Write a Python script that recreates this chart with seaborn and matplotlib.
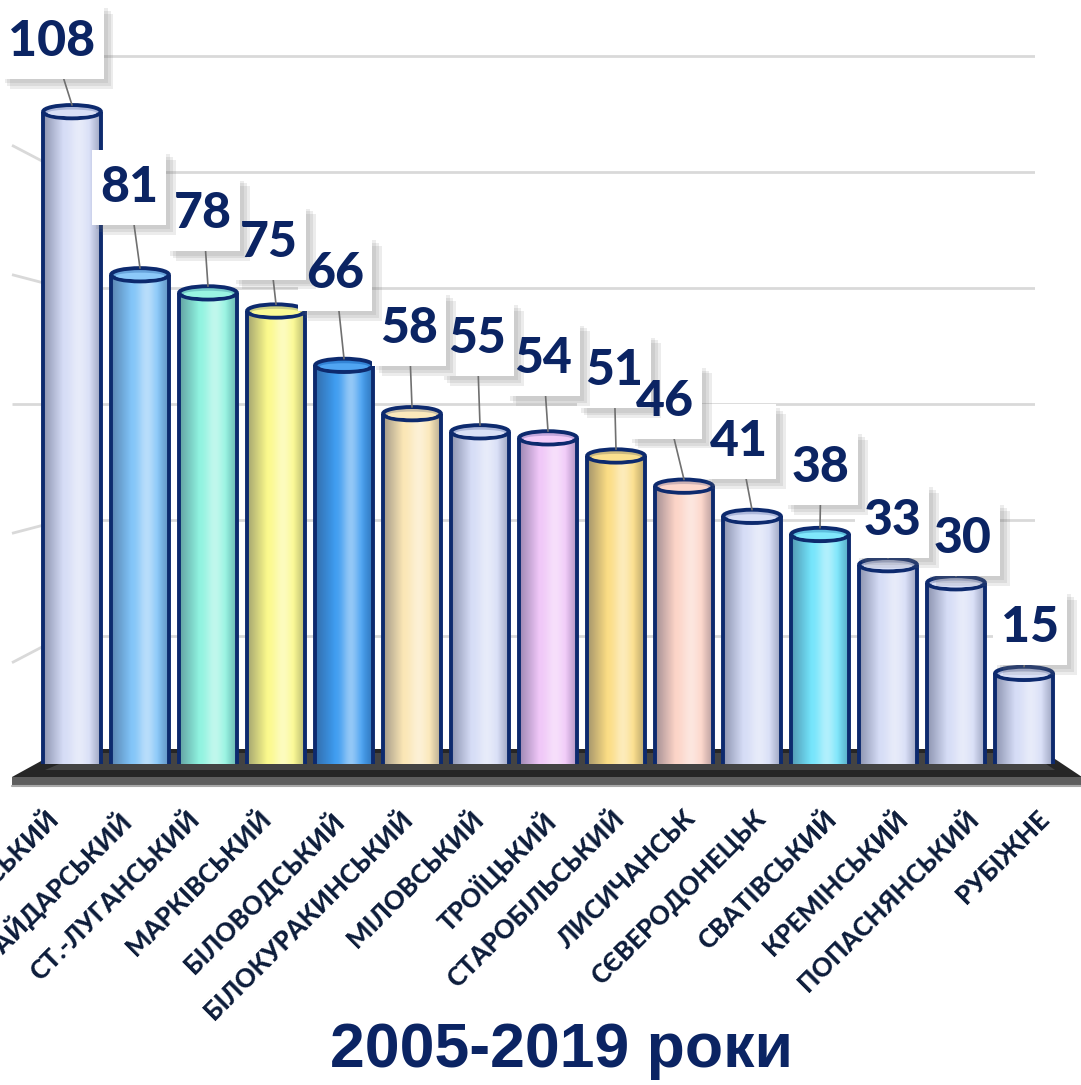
import numpy as np
import matplotlib
matplotlib.use("Agg")
import matplotlib.pyplot as plt
import matplotlib.patheffects as pe
from matplotlib.patches import Ellipse, Polygon
from matplotlib.path import Path
from matplotlib.colors import to_rgb
import seaborn as sns

# data
districts = ["НОВОПСКОВСЬКИЙ", "НОВОАЙДАРСЬКИЙ", "СТ.-ЛУГАНСЬКИЙ", "МАРКІВСЬКИЙ",
             "БІЛОВОДСЬКИЙ", "БІЛОКУРАКИНСЬКИЙ", "МІЛОВСЬКИЙ", "ТРОЇЦЬКИЙ",
             "СТАРОБІЛЬСЬКИЙ", "ЛИСИЧАНСЬК", "СЄВЕРОДОНЕЦЬК", "СВАТІВСЬКИЙ",
             "КРЕМІНСЬКИЙ", "ПОПАСНЯНСЬКИЙ", "РУБІЖНЕ"]
cases = [108, 81, 78, 75, 66, 58, 55, 54, 51, 46, 41, 38, 33, 30, 15]
wall_ticks = [20, 40, 60, 80, 100, 120]
title = "2005-2019 роки"

bar_colors = ["#d5dcf6", "#7fc3f8", "#8ef3df", "#fbf98a", "#3c9bf0", "#fbe6b4",
              "#d5dcf6", "#f0c6f8", "#fbdc82", "#fcd3c6", "#d5dcf6", "#72e4fb",
              "#d5dcf6", "#d5dcf6", "#d5dcf6"]

# label box offsets from the bar top, in pixels (layout only)
label_dx = [-20, -11, -5, -7, -9, -3, -3, -5, -2, -19, -13, 1, 4, 7, 6]
label_dy = [70, 87, 79, 69, 92, 85, 93, 79, 85, 85, 75, 67, 44, 44, 46]

NAVY = "#0b2463"
EDGE = "#0d2a6e"
W, H = 1081, 1085
PX_PER_UNIT = 6.04

sns.set_theme(style="white")
plt.rcParams["font.family"] = ["Lato", "Noto Sans", "DejaVu Sans"]


def tall_box(x0, y0, width, height, mutation_size):
    # white label box: narrow side padding, taller top/bottom padding
    px, py = 0.16 * mutation_size, 0.3 * mutation_size
    verts = [(x0 - px, y0 - py), (x0 + width + px, y0 - py),
             (x0 + width + px, y0 + height + py), (x0 - px, y0 + height + py),
             (x0 - px, y0 - py)]
    return Path(verts, closed=True)


fig = plt.figure(figsize=(W / 100, H / 100), dpi=100)

# back wall with gridlines
ax_back = fig.add_axes([63 / W, 1 - 752 / H, (1035 - 63) / W, 752 / H], zorder=0)
ax_back.set_ylim(0, 752 / 5.8)
ax_back.set_xlim(0, 1)
ax_back.set_yticks(wall_ticks)
ax_back.yaxis.grid(True, color="#d9d9d9", lw=2)
ax_back.set_xticks([])
ax_back.tick_params(left=False, labelleft=False)
for s in ax_back.spines.values():
    s.set_visible(False)
ax_back.patch.set_alpha(0)

# canvas in pixel coordinates for the floor and side-wall stubs
ax_cv = fig.add_axes([0, 0, 1, 1], zorder=0.5)
ax_cv.set_xlim(0, W)
ax_cv.set_ylim(H, 0)
ax_cv.axis("off")
ax_cv.patch.set_alpha(0)

fig.canvas.draw()
for t in wall_ticks:
    yb = H - ax_back.transData.transform((0, t))[1]
    yf = yb + 0.115 * (yb - 404)
    ax_cv.plot([12, 63], [yf, yb], color="#d9d9d9", lw=2, solid_capstyle="butt")

# floor slab
ax_cv.add_patch(Polygon([(63, 749), (1040, 749), (1082, 777), (12, 777)],
                        closed=True, fc="#262626", ec="none"))
ax_cv.add_patch(Polygon([(85, 753), (1030, 753), (1055, 770), (45, 770)],
                        closed=True, fc="#505050", ec="none", alpha=0.7))
ax_cv.add_patch(Polygon([(12, 777), (1082, 777), (1082, 786), (12, 786)],
                        closed=True, fc="#5e5e5e", ec="none"))
ax_cv.plot([12, 1082], [786, 786], color="#a8a8a8", lw=1.5)

# bars
ax = fig.add_axes([38 / W, 1 - 764 / H, 1020 / W, 764 / H], zorder=1)
ax.patch.set_alpha(0)
sns.barplot(x=districts, y=cases, hue=districts, palette=bar_colors, legend=False,
            width=0.85, saturation=1, edgecolor="none", ax=ax)

ell_h = 2.2
rim_px = ell_h / 2 * PX_PER_UNIT
grad = np.linspace(0, 1, 200)
shade = np.zeros((1, 200, 4))
dark = np.clip(0.42 * (1 - grad / 0.35), 0, None) + np.clip(0.32 * (grad - 0.8) / 0.2, 0, None)
light = 0.45 * np.exp(-((grad - 0.62) / 0.16) ** 2)
shade[0, :, :3] = (light / (light + dark + 1e-9))[:, None] * np.array([1, 1, 1]) \
    + (dark / (light + dark + 1e-9))[:, None] * np.array([0.15, 0.18, 0.3])
shade[0, :, 3] = np.clip(light + dark, 0, 0.6)

shadow = [pe.SimplePatchShadow(offset=(o, -o), shadow_rgbFace="#707070", alpha=0.13)
          for o in (7, 5, 3)] + [pe.Normal()]

for i, p in enumerate(ax.patches):
    x0, w, h = p.get_x(), p.get_width(), p.get_height()
    cx = x0 + w / 2
    col = np.array(to_rgb(bar_colors[i]))
    im = ax.imshow(shade, extent=[x0, x0 + w, 0, h], aspect="auto", zorder=1.1,
                   interpolation="bilinear")
    im.set_clip_path(p)
    ax.vlines([x0, x0 + w], 0, h, color=EDGE, lw=2.8, zorder=1.2)
    ax.add_patch(Ellipse((cx, 0), w, ell_h * 1.2, fc=col * 0.85 + 0.15, ec=EDGE,
                         lw=2.8, zorder=0.9))
    top = col * 0.8 + np.array(to_rgb(EDGE)) * 0.2
    ax.add_patch(Ellipse((cx, h), w, ell_h, fc=top, ec=EDGE, lw=2.8, zorder=1.3))
    ax.add_patch(Ellipse((cx, h - 0.2), w * 0.84, ell_h * 0.5, fc=col * 0.9 + 0.1,
                         ec="none", zorder=1.35))

    # white box with leader line, then the number drawn above every box
    offset = (label_dx[i], label_dy[i] - rim_px)
    box = ax.annotate(str(cases[i]), xy=(cx, h + ell_h / 2),
                      xytext=offset, textcoords="offset pixels",
                      ha="center", va="center", fontsize=36, fontweight="black",
                      color=(0, 0, 0, 0), zorder=30 - i,
                      bbox=dict(boxstyle=tall_box, fc="white", ec="none"),
                      arrowprops=dict(arrowstyle="-", color="#707070", lw=1.2,
                                      shrinkA=0, shrinkB=0))
    box.get_bbox_patch().set_path_effects(shadow)
    ax.annotate(str(cases[i]), xy=(cx, h + ell_h / 2),
                xytext=offset, textcoords="offset pixels",
                ha="center", va="center", fontsize=36, fontweight="black",
                color=NAVY, zorder=60)

ax.set_xlim(-0.5, 14.5)
ax.set_ylim(0, 764 / PX_PER_UNIT)
ax.set_xticks([])
ax.set_yticks([])
ax.set_xlabel("")
ax.set_ylabel("")
for s in ax.spines.values():
    s.set_visible(False)

# district names along the front edge of the floor
ax_fr = fig.add_axes([10 / W, 1 - 788 / H, 1062 / W, 0.001], zorder=2)
ax_fr.patch.set_alpha(0)
ax_fr.set_xlim(-0.5, 14.5)
ax_fr.set_xticks(range(len(districts)))
ax_fr.set_xticklabels(districts, rotation=45, ha="right", rotation_mode="anchor",
                      fontsize=18.5, fontweight="black", color="#0c1c3a")
ax_fr.tick_params(axis="x", length=0, pad=13)
ax_fr.set_yticks([])
for s in ax_fr.spines.values():
    s.set_visible(False)

fig.text(561 / W, 1 - 1050 / H, title, ha="center", va="center", fontsize=45,
         fontweight="bold", color=NAVY, family=["Liberation Sans", "DejaVu Sans"])

fig.savefig("out.png", dpi=100)
